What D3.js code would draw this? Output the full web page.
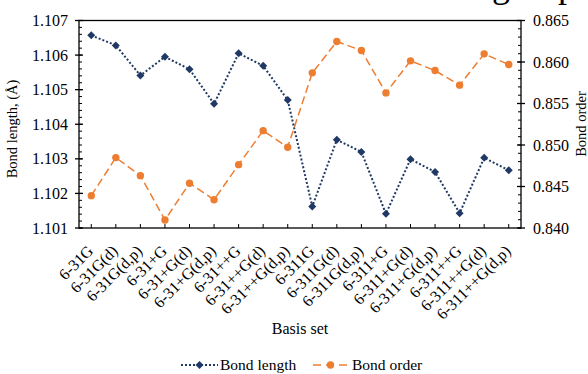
<!DOCTYPE html>
<html>
<head>
<meta charset="utf-8">
<script src="https://cdn.jsdelivr.net/npm/d3@7"></script>
<style>
  html, body { margin: 0; padding: 0; background: #fff; }
  svg { display: block; }
  text { font-family: "Liberation Serif", "DejaVu Serif", serif; fill: #000; }
</style>
</head>
<body>
<svg id="chart" width="588" height="374"></svg>
<script>
const categories = ["6-31G","6-31G(d)","6-31G(d,p)","6-31+G","6-31+G(d)","6-31+G(d,p)",
  "6-31++G","6-31++G(d)","6-31++G(d,p)","6-311G","6-311G(d)","6-311G(d,p)",
  "6-311+G","6-311+G(d)","6-311+G(d,p)","6-311++G","6-311++G(d)","6-311++G(d,p)"];
const bondLength = [1.10657,1.10628,1.10541,1.10595,1.10559,1.10459,1.10605,1.10569,1.10470,
  1.10162,1.10355,1.10320,1.10141,1.10299,1.10262,1.10143,1.10303,1.10267];
const bondOrder = [0.84390,0.84848,0.84631,0.84096,0.84539,0.84341,0.84763,0.85173,0.84973,
  0.85869,0.86247,0.86138,0.85628,0.86014,0.85897,0.85721,0.86098,0.85969];
const leftTicks = [1.101,1.102,1.103,1.104,1.105,1.106,1.107];
const rightTicks = [0.840,0.845,0.850,0.855,0.860,0.865];
const titleText = "Bond order of C–H in the nitro group";

const svg = d3.select("#chart");
const L = 79, R = 521, T = 20.5, B = 228;
const blue = "#1f3864", orange = "#ed7d31";

const x = d3.scaleBand().domain(categories).range([L, R]);
const yL = d3.scaleLinear().domain([1.101, 1.107]).range([B, T]);
const yR = d3.scaleLinear().domain([0.840, 0.865]).range([B, T]);
const cx = d => x(d) + x.bandwidth() / 2;

// title (clipped at the top edge, as in the reference)
svg.append("text").attr("x", 576).attr("y", -3.5).attr("text-anchor", "end")
  .style("font-size", "36px").text(titleText);

// ticks
const minorL = d3.range(0, 31).map(i => 1.101 + i * 0.0002);
const minorR = d3.range(0, 26).map(i => 0.840 + i * 0.001);
const g = svg.append("g").attr("stroke", "#000").attr("stroke-width", 1);
minorL.forEach(v => g.append("line").attr("x1", L).attr("x2", L + 3).attr("y1", yL(v)).attr("y2", yL(v)));
minorR.forEach(v => g.append("line").attr("x1", R - 3).attr("x2", R).attr("y1", yR(v)).attr("y2", yR(v)));
leftTicks.forEach(v => g.append("line").attr("x1", L - 4).attr("x2", L + 4).attr("y1", yL(v)).attr("y2", yL(v)).attr("stroke-width", 1.3));
rightTicks.forEach(v => g.append("line").attr("x1", R - 4).attr("x2", R + 4).attr("y1", yR(v)).attr("y2", yR(v)).attr("stroke-width", 1.3));
categories.forEach(c => g.append("line").attr("x1", cx(c)).attr("x2", cx(c)).attr("y1", B).attr("y2", B - 4));

// frame
svg.append("rect").attr("x", L).attr("y", T).attr("width", R - L).attr("height", B - T)
  .attr("fill", "none").attr("stroke", "#000").attr("stroke-width", 1.3);

// tick labels
svg.append("g").selectAll("text").data(leftTicks).join("text")
  .attr("x", L - 11).attr("y", d => yL(d)).attr("dy", "0.35em").attr("text-anchor", "end")
  .style("font-size", "16px").text(d => d3.format(".3f")(d));
svg.append("g").selectAll("text").data(rightTicks).join("text")
  .attr("x", R + 12).attr("y", d => yR(d)).attr("dy", "0.35em").attr("text-anchor", "start")
  .style("font-size", "16px").text(d => d3.format(".3f")(d));
svg.append("g").selectAll("text").data(categories).join("text")
  .attr("transform", d => `translate(${cx(d) - 1},${B + 20}) rotate(-45)`)
  .attr("text-anchor", "end").attr("dy", "0.35em")
  .style("font-size", "16px").text(d => d);

// axis titles
svg.append("text").attr("transform", `translate(17,129) rotate(-90)`)
  .attr("text-anchor", "middle").style("font-size", "14.5px").text("Bond length, (Å)");
svg.append("text").attr("transform", `translate(586,124) rotate(-90)`)
  .attr("text-anchor", "middle").style("font-size", "14.5px").text("Bond order");
svg.append("text").attr("x", (L + R) / 2).attr("y", 334).attr("text-anchor", "middle")
  .style("font-size", "16px").text("Basis set");

// lines
const lineL = d3.line().x((d, i) => cx(categories[i])).y(d => yL(d));
const lineR = d3.line().x((d, i) => cx(categories[i])).y(d => yR(d));
svg.append("path").attr("d", lineR(bondOrder)).attr("fill", "none").attr("stroke", orange)
  .attr("stroke-width", 1.5).attr("stroke-dasharray", "8 4");
svg.append("path").attr("d", lineL(bondLength)).attr("fill", "none").attr("stroke", blue)
  .attr("stroke-width", 2).attr("stroke-dasharray", "2 2");

const diamond = d3.symbol().type(d3.symbolSquare).size(32);
svg.append("g").selectAll("path").data(bondLength).join("path")
  .attr("d", diamond).attr("fill", blue)
  .attr("transform", (d, i) => `translate(${cx(categories[i])},${yL(d)}) rotate(45)`);
svg.append("g").selectAll("circle").data(bondOrder).join("circle")
  .attr("cx", (d, i) => cx(categories[i])).attr("cy", d => yR(d)).attr("r", 3.7).attr("fill", orange);

// legend
const ly = 365;
const lg = svg.append("g");
lg.append("line").attr("x1", 181).attr("x2", 218).attr("y1", ly).attr("y2", ly)
  .attr("stroke", blue).attr("stroke-width", 2).attr("stroke-dasharray", "2 2");
lg.append("path").attr("d", diamond).attr("fill", blue).attr("transform", `translate(199.5,${ly}) rotate(45)`);
lg.append("text").attr("x", 220).attr("y", ly).attr("dy", "0.35em").style("font-size", "15.5px").text("Bond length");
lg.append("line").attr("x1", 313).attr("x2", 348).attr("y1", ly).attr("y2", ly)
  .attr("stroke", orange).attr("stroke-width", 1.5).attr("stroke-dasharray", "8 5");
lg.append("circle").attr("cx", 330.5).attr("cy", ly).attr("r", 3.7).attr("fill", orange);
lg.append("text").attr("x", 352).attr("y", ly).attr("dy", "0.35em").style("font-size", "15.5px").text("Bond order");
</script>
</body>
</html>
